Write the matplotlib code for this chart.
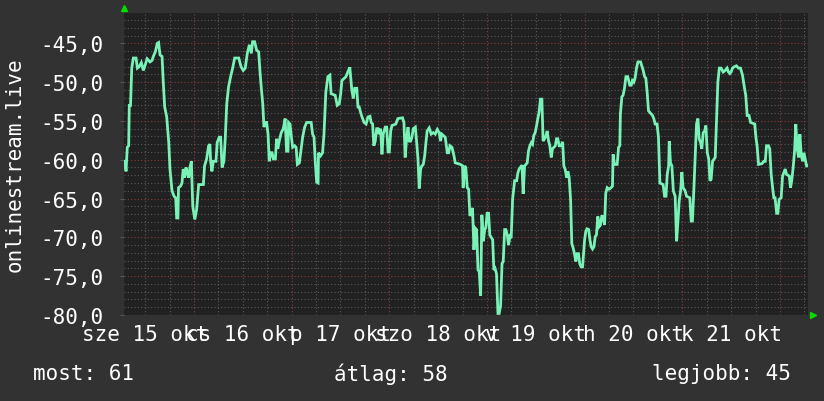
import matplotlib
matplotlib.use('Agg')
import matplotlib.pyplot as plt
import matplotlib.dates as mdates
import pandas as pd
import numpy as np

start = pd.Timestamp('2025-10-15 06:48')

# hours since start
hours = [
    0.25, 0.5, 0.8, 1.15, 1.3, 1.6, 1.9, 2.3, 2.95, 3.3, 3.75, 4.25, 4.75, 5.2, 5.7, 6.4, 6.9, 7.2, 7.7, 8.2,
    8.5, 8.85, 9.35, 9.65, 10.0, 10.5, 11.0, 11.3, 11.8, 12.3, 12.7, 12.95, 13.25, 13.4, 13.9, 14.25, 14.55, 14.9, 15.25, 15.55,
    15.9, 16.2, 16.55, 16.9, 17.4, 17.85, 18.35, 19.5, 19.8, 20.3, 20.8, 21.1, 21.3, 21.6, 21.95, 22.6, 22.9, 23.4, 23.75, 24.1,
    24.55, 24.9, 25.25, 25.7, 26.2, 26.7, 27.2, 27.5, 28.2, 28.75, 29.3, 29.8, 30.3, 30.8, 31.3, 31.6, 32.1, 32.6, 33.1, 33.4,
    33.75, 34.1, 34.4, 34.7, 35.05, 35.4, 35.7, 36.05, 36.4, 36.7, 37.2, 37.5, 37.8, 38.15, 38.65, 39.15, 39.6, 39.95, 40.3, 40.45,
    40.8, 41.1, 41.45, 41.95, 42.3, 42.6, 43.1, 43.55, 43.9, 44.4, 44.9, 46.0, 46.35, 46.7, 47.0, 47.35, 47.7, 47.8, 48.3, 48.8,
    49.15, 49.6, 50.1, 50.6, 50.9, 51.9, 52.4, 52.9, 53.25, 53.55, 54.55, 55.0, 55.5, 56.0, 56.35, 56.7, 57.2, 57.5, 57.8, 58.15,
    58.5, 59.0, 59.5, 59.95, 60.45, 60.75, 61.1, 61.4, 61.75, 62.1, 62.4, 62.7, 63.05, 63.4, 63.7, 64.2, 64.55, 64.9, 65.2, 65.55,
    65.85, 66.8, 67.3, 68.45, 68.8, 69.1, 69.45, 69.8, 70.1, 70.45, 70.75, 71.1, 71.6, 71.9, 72.25, 72.55, 72.9, 73.2, 73.55, 73.9,
    74.2, 74.5, 75.0, 75.5, 76.0, 76.5, 77.0, 77.45, 77.8, 78.1, 78.95, 79.45, 79.8, 80.1, 80.6, 81.1, 81.4, 82.7, 83.2, 83.35,
    83.7, 84.0, 84.35, 84.7, 85.0, 85.5, 85.65, 86.0, 86.3, 86.65, 87.0, 87.3, 87.65, 87.95, 88.3, 88.6, 88.95, 89.25, 89.6, 89.9,
    90.6, 90.9, 91.2, 91.55, 91.9, 92.2, 92.55, 92.9, 93.2, 93.55, 93.85, 94.2, 94.5, 94.85, 95.15, 95.5, 96.0, 96.5, 96.8, 97.1,
    97.8, 98.1, 98.45, 99.1, 99.4, 99.75, 100.1, 100.4, 100.7, 101.05, 101.4, 101.7, 102.0, 102.35, 102.7, 103.0, 103.35, 103.7, 104.0, 104.35,
    104.65, 105.0, 105.3, 106.0, 106.3, 106.6, 106.95, 107.4, 107.8, 108.1, 108.4, 108.8, 109.1, 109.4, 109.75, 110.05, 110.4, 110.7, 111.05, 111.35,
    111.7, 112.0, 112.35, 112.7, 113.2, 113.5, 113.8, 114.2, 114.5, 114.8, 115.15, 115.5, 115.8, 116.1, 116.45, 116.8, 117.1, 117.4, 117.75, 118.1,
    118.4, 118.75, 119.2, 119.7, 120.05, 120.2, 120.55, 121.2, 121.55, 121.85, 122.0, 122.35, 122.65, 123.0, 123.35, 123.8, 124.3, 124.65, 124.95, 125.3,
    125.6, 125.95, 126.3, 126.95, 127.3, 127.6, 127.95, 128.25, 128.6, 128.9, 129.55, 129.9, 130.2, 130.55, 131.0, 131.35, 131.7, 132.5, 132.85, 133.2,
    133.5, 133.85, 134.0, 134.3, 134.65, 135.0, 135.45, 135.8, 136.1, 136.45, 136.8, 137.1, 137.4, 137.9, 138.25, 139.05, 139.4, 139.7, 140.05, 140.35,
    140.7, 141.05, 141.35, 141.7, 142.0, 142.35, 142.7, 143.0, 143.35, 143.7, 144.0, 144.3, 144.65, 145.3, 145.6, 145.95, 146.3, 146.75, 147.25, 147.75,
    148.2, 148.55, 148.9, 149.2, 149.55, 150.05, 150.5, 151.0, 151.5, 152.0, 152.5, 152.8, 153.15, 153.6, 154.0, 155.0, 155.3, 155.6, 155.95, 156.8,
    157.25, 157.6, 157.9, 158.4, 158.7, 159.05, 159.4, 159.7, 160.0, 160.4, 160.7, 161.0, 161.5, 161.85, 162.15, 162.5, 162.85, 163.5, 163.8, 164.1,
    164.45, 164.8, 165.1, 165.45, 165.8, 166.1, 166.45, 166.8, 167.1, 167.4, 167.75, 168.05,
]

# online listeners (plotted as negative, like the original graph)
online = [
    60.2, 61.5, 58.4, 58.2, 53.0, 53.0, 48.2, 46.9, 46.9, 48.2, 48.0, 47.5, 48.5, 47.8, 47.0, 47.4, 47.2, 46.7, 46.1, 45.0,
    44.9, 46.5, 46.7, 50.0, 53.2, 54.5, 57.8, 61.2, 64.0, 64.7, 64.9, 67.5, 67.5, 63.6, 63.4, 63.0, 61.2, 62.3, 61.0, 61.7,
    62.3, 61.0, 60.2, 66.0, 67.7, 66.4, 63.2, 63.2, 60.8, 59.9, 58.2, 58.0, 60.2, 61.5, 60.2, 60.2, 57.8, 57.1, 57.1, 61.0,
    60.2, 57.1, 52.8, 50.6, 49.3, 48.2, 46.9, 46.9, 46.9, 48.0, 48.5, 48.2, 46.3, 45.2, 46.3, 44.8, 44.8, 45.9, 46.1, 48.5,
    50.8, 52.8, 55.8, 55.2, 55.2, 56.7, 60.2, 59.1, 59.1, 59.9, 59.9, 57.3, 58.6, 57.6, 56.5, 56.0, 54.7, 58.9, 58.9, 55.2,
    55.4, 56.9, 58.4, 58.2, 58.4, 60.6, 60.4, 58.6, 57.1, 55.8, 55.2, 55.2, 56.7, 57.1, 60.2, 62.9, 63.0, 59.1, 59.5, 59.1,
    56.7, 51.3, 49.3, 49.1, 51.5, 51.7, 53.0, 52.8, 51.5, 49.8, 49.3, 48.7, 48.1, 51.1, 52.1, 50.8, 50.8, 53.2, 53.2, 53.9,
    54.5, 55.2, 55.4, 54.5, 54.4, 55.2, 55.4, 58.2, 57.6, 56.0, 56.0, 56.7, 56.0, 59.3, 56.7, 55.8, 55.8, 59.0, 59.0, 56.3,
    55.6, 55.4, 54.7, 54.6, 55.2, 59.7, 57.3, 55.8, 57.6, 57.6, 57.1, 56.0, 55.8, 57.6, 59.9, 63.7, 61.2, 60.8, 60.6, 59.5,
    57.8, 56.3, 55.9, 56.7, 56.5, 56.7, 56.1, 56.5, 57.6, 56.7, 57.1, 59.1, 59.1, 58.2, 58.4, 59.5, 60.4, 60.6, 60.8, 63.6,
    60.8, 61.0, 63.6, 63.8, 67.1, 67.1, 66.2, 71.6, 68.8, 69.0, 74.2, 74.4, 77.5, 67.1, 70.5, 69.2, 68.6, 66.9, 66.9, 69.7,
    70.3, 74.2, 74.0, 74.7, 79.8, 79.8, 78.8, 73.4, 73.1, 69.0, 69.0, 69.7, 71.0, 69.9, 70.1, 65.1, 62.7, 62.7, 61.7, 61.2,
    60.7, 64.4, 60.8, 60.4, 58.9, 58.2, 57.8, 58.0, 56.9, 56.5, 55.6, 54.7, 53.9, 52.2, 52.2, 57.6, 57.3, 56.9, 56.3, 57.6,
    58.2, 59.7, 58.6, 58.2, 57.3, 57.3, 58.2, 58.2, 57.7, 60.8, 61.2, 62.3, 61.5, 62.3, 65.1, 70.8, 71.4, 72.1, 73.1, 72.1,
    72.1, 73.4, 73.8, 73.8, 70.3, 69.2, 68.9, 69.0, 70.3, 71.2, 71.5, 71.2, 69.9, 69.7, 67.3, 68.6, 68.4, 67.3, 67.3, 68.4,
    64.3, 63.6, 63.8, 63.6, 63.4, 59.3, 60.6, 60.6, 58.4, 58.2, 54.1, 51.9, 51.7, 50.8, 49.3, 49.3, 50.4, 50.4, 49.8, 50.0,
    49.5, 48.2, 47.4, 47.4, 48.0, 48.5, 49.3, 49.5, 51.5, 53.7, 54.1, 54.3, 54.7, 55.4, 55.4, 57.1, 63.0, 63.2, 64.7, 64.7,
    61.9, 60.8, 57.6, 60.4, 60.8, 64.0, 64.7, 70.5, 68.2, 65.3, 64.0, 61.6, 63.6, 64.0, 64.7, 64.9, 67.9, 67.9, 63.8, 59.9,
    55.4, 54.7, 57.3, 57.8, 58.6, 56.5, 56.3, 55.6, 59.1, 59.9, 62.7, 62.5, 60.2, 59.7, 55.2, 50.0, 48.2, 48.2, 48.7, 48.5,
    48.2, 48.7, 48.9, 48.7, 48.2, 48.0, 47.9, 48.2, 48.2, 49.1, 50.8, 51.7, 54.3, 54.3, 55.2, 55.4, 57.1, 58.3, 60.6, 60.5,
    60.2, 60.2, 58.2, 58.2, 58.6, 61.9, 63.6, 64.9, 64.9, 66.9, 66.9, 65.1, 64.9, 62.1, 61.7, 61.2, 61.9, 62.1, 63.6, 62.7,
    61.0, 58.9, 55.4, 58.6, 59.7, 56.7, 59.5, 60.2, 59.1, 59.9, 60.8, 60.8,
]

day_labels = ['sze 15 okt', 'cs 16 okt', 'p 17 okt', 'szo 18 okt', 'v 19 okt', 'h 20 okt', 'k 21 okt']
label_days = pd.date_range('2025-10-15 12:00', periods=7, freq='D')
y_ticks = [-80, -75, -70, -65, -60, -55, -50, -45]

times = start + pd.to_timedelta(hours, unit='h')
vals = -np.array(online)

plt.rcParams['font.family'] = 'DejaVu Sans Mono'
fig = plt.figure(figsize=(8.24, 4.02), dpi=100, facecolor='#323232')
ax = fig.add_axes([124 / 824, 86 / 402, 684 / 824, 302 / 402])
ax.set_facecolor('#212121')

ax.plot(times, vals, color='#78f2b6', linewidth=2.0, solid_joinstyle='miter', zorder=3)

ax.set_xlim(start, start + pd.Timedelta(hours=168.1))
ax.set_ylim(-80, -41.1)

# grid
ax.xaxis.set_major_locator(mdates.DayLocator())
ax.xaxis.set_minor_locator(mdates.HourLocator(byhour=[6, 12, 18]))
ax.yaxis.set_major_locator(plt.FixedLocator(y_ticks))
ax.yaxis.set_minor_locator(plt.MultipleLocator(1))
ax.grid(which='minor', color='#5a5a5a', linestyle=(0, (1, 2)), linewidth=0.8)
ax.grid(which='major', color='#8a3b3b', linestyle=(0, (1, 2)), linewidth=0.8)
ax.set_axisbelow(True)

ax.yaxis.set_major_formatter(plt.FuncFormatter(lambda v, p: f'{v:.1f}'.replace('.', ',')))
ax.tick_params(axis='y', which='major', colors='white', labelsize=15, length=3, pad=12, color='#555555')
ax.tick_params(axis='y', which='minor', length=0)
ax.tick_params(axis='x', which='both', length=0, labelbottom=False)

for s in ax.spines.values():
    s.set_visible(False)

# x labels centred at noon, as in the original
for d, lab in zip(label_days, day_labels):
    ax.text(d, -0.03, lab, transform=ax.get_xaxis_transform(), ha='center', va='top',
            color='white', fontsize=15, clip_on=False)

# arrows
ax.plot([0], [1.017], marker='^', color='#00e000', markersize=5, transform=ax.transAxes, clip_on=False)
ax.plot([1.008], [0], marker='>', color='#00e000', markersize=5, transform=ax.transAxes, clip_on=False)

fig.text(15 / 824, 1 - 165 / 402, 'onlinestream.live', rotation=90, ha='center', va='center',
         color='white', fontsize=15)

fig.text(33 / 824, 1 - 374 / 402, 'most: 61', ha='left', va='center', color='white', fontsize=15)
fig.text(391 / 824, 1 - 374 / 402, 'átlag: 58', ha='center', va='center', color='white', fontsize=15)
fig.text(791 / 824, 1 - 374 / 402, 'legjobb: 45', ha='right', va='center', color='white', fontsize=15)

fig.savefig('out.png', dpi=100, facecolor=fig.get_facecolor())
